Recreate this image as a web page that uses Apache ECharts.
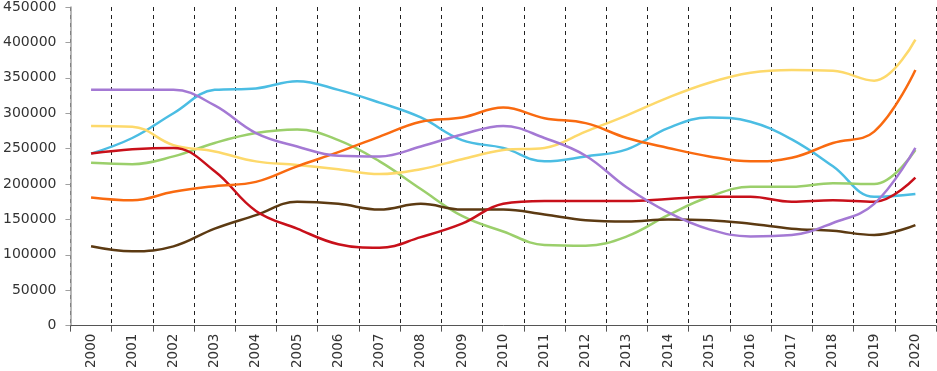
<!DOCTYPE html>
<html>
<head>
<meta charset="utf-8">
<script src="https://cdn.jsdelivr.net/npm/echarts@6/dist/echarts.min.js"></script>
<style>
  html, body { margin: 0; padding: 0; background: #fff; }
  #chart { width: 937px; height: 371px; }
</style>
</head>
<body>
<div id="chart"></div>
<script>
const years = ["2000", "2001", "2002", "2003", "2004", "2005", "2006", "2007", "2008", "2009", "2010",
  "2011", "2012", "2013", "2014", "2015", "2016", "2017", "2018", "2019", "2020"];
const yTicks = { min: 0, max: 450000, step: 50000 };

const cyanData = [243000, 265000, 300000, 333000, 335000, 345000, 333000, 315000, 294000, 262000, 251000,
  232000, 239000, 249000, 279000, 294000, 288000, 263000, 225000, 182000, 186000];
const purpleData = [333000, 333000, 333000, 311000, 272000, 253000, 240000, 239000, 253000, 270000, 282000,
  265000, 240000, 195000, 160000, 136000, 126000, 128000, 145000, 172000, 251000];
const greenData = [230000, 228000, 239000, 258000, 272000, 277000, 262000, 232000, 193000, 155000, 133000,
  114000, 113000, 126000, 156000, 182000, 196000, 196000, 201000, 200000, 248000];
const yellowData = [282000, 281000, 255000, 246000, 232000, 227000, 221000, 214000, 221000, 235000, 248000,
  251000, 274000, 297000, 322000, 343000, 357000, 361000, 360000, 346000, 404000];
const orangeData = [181000, 177000, 189000, 197000, 203000, 225000, 245000, 267000, 288000, 294000, 308000,
  293000, 286000, 265000, 251000, 239000, 232000, 237000, 258000, 274000, 361000];
const redData = [243000, 249000, 251000, 218000, 162000, 137000, 115000, 110000, 125000, 144000, 172000,
  176000, 176000, 176000, 179000, 182000, 182000, 175000, 177000, 175000, 209000];
const brownData = [112000, 105000, 112000, 137000, 156000, 175000, 172000, 164000, 172000, 164000, 164000,
  157000, 149000, 147000, 150000, 149000, 144000, 137000, 134000, 128000, 142000];

const seriesList = [
  { name: "cyan", color: "#4bbde3", data: cyanData },
  { name: "green", color: "#9bcf6b", data: greenData },
  { name: "yellow", color: "#fdd96b", data: yellowData },
  { name: "brown", color: "#5c3a12", data: brownData },
  { name: "red", color: "#c8101a", data: redData },
  { name: "orange", color: "#f96a10", data: orangeData },
  { name: "purple", color: "#a479d4", data: purpleData }
];

const chart = echarts.init(document.getElementById("chart"), null, { renderer: "canvas" });
const fontFamily = "'DejaVu Sans', sans-serif";

chart.setOption({
  animation: false,
  backgroundColor: "#fff",
  grid: { left: 62, right: 1, top: 5, bottom: 42, containLabel: false },
  xAxis: {
    type: "category",
    data: years,
    boundaryGap: true,
    axisLine: { lineStyle: { color: "#555", width: 1 } },
    axisTick: { show: true, length: 6, lineStyle: { color: "#555" } },
    axisLabel: {
      rotate: 90,
      margin: 8,
      color: "#333",
      fontSize: 13.5,
      fontFamily: fontFamily
    },
    splitLine: {
      show: true,
      lineStyle: { color: "#222", type: [4, 4], width: 1 }
    }
  },
  yAxis: {
    type: "value",
    min: yTicks.min,
    max: yTicks.max,
    interval: yTicks.step,
    axisLine: { show: true, lineStyle: { color: "#a0a0a0", width: 1.5 } },
    axisTick: { show: true, length: 5, lineStyle: { color: "#a0a0a0" } },
    axisLabel: {
      color: "#333",
      fontSize: 14,
      margin: 14,
      fontFamily: fontFamily,
      formatter: v => String(v)
    },
    splitLine: { show: false }
  },
  series: seriesList.map(s => ({
    name: s.name,
    type: "line",
    data: s.data,
    smooth: 0.4,
    symbol: "none",
    lineStyle: { color: s.color, width: 2.5 },
    itemStyle: { color: s.color }
  }))
});
</script>
</body>
</html>
